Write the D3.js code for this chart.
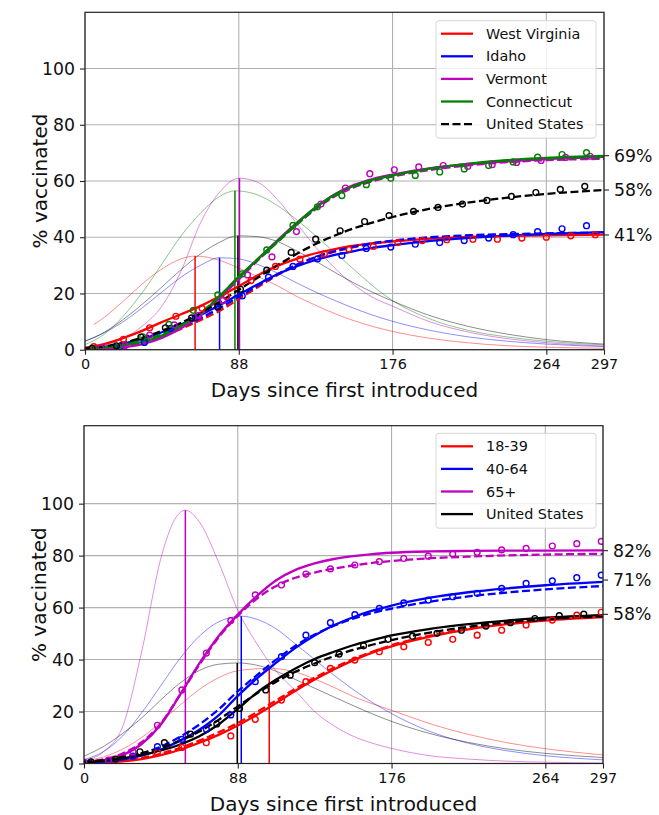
<!DOCTYPE html>
<html>
<head>
<meta charset="utf-8">
<script src="https://cdnjs.cloudflare.com/ajax/libs/d3/7.8.5/d3.min.js"></script>
<style>
  body { margin: 0; background: #fff; font-family: "DejaVu Sans", sans-serif; }
  svg text { font-family: "DejaVu Sans", sans-serif; fill: #111; }
</style>
</head>
<body>
<script>
// ---- data ----
var xTicks = [0, 88, 176, 264, 297];
var yTicks = [0, 20, 40, 60, 80, 100];
var days = [0, 11, 22, 33, 44, 55, 66, 77, 88, 99, 110, 121, 132, 143, 154, 165, 176, 198, 220, 242, 264, 297];

// top panel: states
var stateNames = ["West Virginia", "Idaho", "Vermont", "Connecticut", "United States"];
var wvFit  = [0.7, 2.0, 4.2, 6.8, 9.8, 12.6, 15.5, 19.0, 22.6, 26.5, 29.8, 32.3, 34.3, 35.8, 37.0, 37.9, 38.5, 39.5, 40.1, 40.5, 40.7, 40.9];
var wvDash = [0.2, 0.6, 1.4, 2.8, 4.8, 7.4, 10.5, 13.8, 18.0, 22.3, 26.5, 30.0, 32.8, 34.9, 36.5, 37.7, 38.6, 39.8, 40.5, 40.9, 41.1, 41.2];
var idFit  = [0.4, 1.0, 2.2, 3.9, 6.2, 9.0, 12.3, 15.8, 19.6, 23.3, 26.8, 29.6, 31.9, 33.7, 35.1, 36.3, 37.2, 38.7, 39.8, 40.6, 41.2, 41.8];
var idDash = [0.3, 0.8, 1.7, 3.2, 5.3, 8.0, 11.2, 14.8, 18.8, 22.9, 26.8, 30.2, 33.0, 35.1, 36.7, 37.9, 38.8, 40.0, 40.7, 41.1, 41.4, 41.6];
var vtFit  = [0.1, 0.3, 0.9, 2.0, 4.2, 7.6, 12.3, 18.5, 25.5, 32.3, 38.8, 45.0, 50.6, 55.3, 58.6, 60.8, 62.3, 64.6, 66.0, 67.0, 67.8, 68.6];
var vtDash = [0.2, 0.5, 1.2, 2.5, 4.7, 8.0, 12.5, 18.3, 25.0, 31.8, 38.3, 44.5, 50.0, 54.6, 57.8, 60.0, 61.6, 64.0, 65.6, 66.7, 67.4, 67.9];
var ctFit  = [0.3, 0.8, 1.7, 2.8, 5.0, 8.5, 12.8, 19.0, 26.0, 32.3, 38.5, 44.8, 50.6, 55.2, 58.3, 60.5, 62.0, 64.5, 66.2, 67.4, 68.2, 68.9];
var ctDash = [0.4, 1.0, 2.0, 3.3, 5.5, 8.8, 13.0, 19.0, 25.8, 32.0, 38.2, 44.4, 50.2, 54.9, 58.1, 60.3, 61.9, 64.4, 66.1, 67.3, 68.0, 68.4];
var usDash = [0.5, 1.2, 2.5, 4.3, 6.7, 9.6, 13.0, 17.0, 21.3, 25.7, 30.0, 34.0, 37.6, 40.6, 43.2, 45.3, 47.2, 50.2, 52.4, 54.1, 55.4, 56.8];

var wvBell = [[5, 8.9], [11, 11.5], [22, 17.3], [33, 23.5], [44, 28.7], [55, 32.3], [63, 33.3], [77, 31.8], [88, 29.0], [99, 26.0], [110, 22.8], [121, 19.0], [132, 15.8], [143, 12.8], [154, 10.3], [165, 8.2], [176, 6.5], [198, 4.0], [220, 2.4], [242, 1.4], [264, 0.9], [297, 0.5]];
var idBell = [[0, 3.0], [11, 6.0], [22, 10.0], [33, 15.0], [44, 20.5], [55, 25.8], [66, 30.0], [77, 32.7], [88, 32.3], [99, 30.3], [110, 27.3], [121, 23.8], [132, 20.5], [143, 17.5], [154, 14.7], [165, 12.2], [176, 10.1], [198, 6.8], [220, 4.5], [242, 3.0], [264, 2.0], [297, 1.1]];
var vtBell = [[0, 0.4], [11, 1.5], [22, 4.0], [33, 8.5], [44, 15.5], [55, 28], [66, 45], [77, 56], [88, 61], [99, 59.5], [110, 53.5], [121, 45], [132, 36.5], [143, 29], [154, 23], [165, 18.5], [176, 15.5], [198, 9.8], [220, 6.2], [242, 3.9], [264, 2.5], [297, 1.3]];
var ctBell = [[0, 1.8], [11, 5.5], [22, 12], [33, 20.5], [44, 30.5], [55, 40.5], [66, 48.5], [77, 54.5], [86, 56.5], [99, 55], [110, 51.3], [121, 46.3], [132, 40.5], [143, 34.5], [154, 28.5], [165, 22.5], [176, 17.5], [198, 10.8], [220, 6.8], [242, 4.5], [264, 3.0], [297, 1.7]];
var usBell = [[0, 3.0], [11, 6.2], [22, 10.8], [33, 16.3], [44, 22.3], [55, 28.5], [66, 34], [77, 38.2], [87, 40.5], [99, 40.2], [110, 38.5], [121, 35.2], [132, 31.5], [143, 27.5], [154, 23.7], [165, 20.3], [176, 17.3], [198, 12.0], [220, 8.2], [242, 5.5], [264, 3.6], [297, 2.0]];

var statePeakDays = [63, 77, 88.4, 85.8, 87.5];
var statePeakVals = [33.3, 32.7, 61, 56.5, 40.5];

var wvObsDays = [5, 22, 37, 52, 67, 81, 95, 109, 123, 137, 151, 165, 179, 193, 207, 222, 236, 250, 264, 278, 292];
var wvObs     = [1.1, 3.7, 7.8, 11.9, 14.7, 18.9, 24.6, 29.6, 32.2, 34.1, 35.8, 36.7, 38.1, 38.8, 39.1, 39.3, 39.3, 39.7, 40.0, 40.5, 40.9];
var idObsDays = [20, 34, 49, 63, 76, 90, 105, 119, 133, 147, 161, 175, 189, 203, 217, 231, 245, 259, 273, 287];
var idObs     = [1.1, 2.6, 7.6, 11.3, 15.1, 19.1, 25.8, 29.6, 32.3, 33.5, 36.0, 36.5, 37.5, 38.1, 38.8, 39.7, 40.9, 42.0, 43.0, 44.1];
var vtObsDays = [9, 23, 37, 51, 65, 79, 93, 107, 121, 135, 149, 163, 177, 191, 205, 219, 233, 247, 261, 275, 289];
var vtObs     = [0.6, 1.5, 5.2, 8.8, 12.2, 17.5, 26.6, 33.0, 42.0, 51.8, 57.5, 62.6, 64.0, 65.0, 65.5, 65.2, 65.8, 66.6, 67.3, 68.4, 68.8];
var ctObsDays = [5, 19, 33, 48, 62, 76, 90, 104, 119, 133, 147, 161, 175, 189, 203, 217, 231, 245, 259, 273, 287];
var ctObs     = [0.3, 1.0, 4.6, 9.0, 14.0, 19.5, 27.0, 35.5, 44.2, 50.8, 54.8, 58.7, 61.0, 62.0, 63.2, 64.3, 65.5, 66.8, 68.5, 69.4, 70.1];
var usObsDays = [4, 18, 32, 46, 61, 76, 89, 104, 118, 132, 146, 160, 174, 188, 202, 216, 230, 244, 258, 272, 286];
var usObs     = [0.5, 1.4, 4.5, 7.8, 11.3, 15.3, 21.5, 28.3, 34.6, 39.3, 42.3, 45.6, 47.7, 49.2, 50.6, 51.8, 53.1, 54.5, 55.9, 57.0, 58.1];

var stateEnds = [69, 56.8, 40.8];
var stateEndLabels = ["69%", "58%", "41%"];

// bottom panel: age groups
var ageNames = ["18-39", "40-64", "65+", "United States"];
var y18Fit  = [0.2, 0.4, 0.8, 1.7, 3.2, 5.3, 8.0, 11.0, 14.6, 18.8, 23.3, 28.0, 32.3, 36.2, 39.7, 42.7, 45.1, 48.8, 51.6, 53.6, 55.0, 56.3];
var y18Dash = [0.3, 0.6, 1.2, 2.2, 3.8, 6.0, 8.8, 12.0, 15.6, 19.8, 24.3, 28.8, 33.0, 36.8, 40.2, 43.0, 45.5, 49.2, 51.9, 53.9, 55.3, 56.6];
var m40Fit  = [0.3, 0.7, 1.5, 3.0, 5.4, 8.8, 13.0, 18.5, 26.0, 32.8, 38.8, 44.5, 49.3, 53.2, 56.3, 58.8, 60.8, 63.8, 65.9, 67.4, 68.6, 69.9];
var m40Dash = [0.4, 1.0, 2.0, 3.8, 6.5, 10.3, 15.0, 20.8, 27.8, 34.0, 40.0, 45.3, 49.6, 53.0, 55.7, 57.9, 59.6, 62.3, 64.3, 65.8, 67.0, 68.3];
var o65Fit  = [0.4, 1.3, 3.2, 7.5, 15.0, 26.5, 38.5, 49.0, 57.3, 64.5, 70.5, 74.5, 77.0, 78.7, 79.8, 80.6, 81.1, 81.6, 81.8, 81.9, 81.9, 82.0];
var o65Dash = [0.5, 1.6, 3.8, 8.2, 15.5, 26.5, 38.0, 48.5, 56.8, 63.5, 68.3, 71.5, 73.5, 75.0, 76.2, 77.2, 77.9, 79.0, 79.6, 80.1, 80.4, 80.7];
var usFitB  = [0.5, 1.0, 2.0, 3.3, 5.0, 7.3, 10.5, 15.0, 21.0, 27.3, 32.3, 36.6, 40.2, 43.0, 45.5, 47.5, 49.3, 51.8, 53.6, 55.0, 56.1, 57.1];
var usDashB = [0.6, 1.3, 2.5, 4.0, 6.0, 8.8, 12.3, 16.8, 22.0, 27.0, 31.5, 35.3, 38.5, 41.3, 43.7, 45.7, 47.5, 50.4, 52.6, 54.3, 55.5, 56.6];

var y18Bell = [[0, 1.0], [11, 2.5], [22, 5.5], [33, 10], [44, 16], [55, 22.5], [66, 28.5], [77, 33], [88, 35.7], [106, 36.6], [121, 35.2], [132, 32.5], [143, 29.3], [154, 25.8], [165, 23.0], [176, 20.5], [198, 15.3], [220, 11.2], [242, 8.0], [264, 5.7], [297, 3.3]];
var m40Bell = [[0, 1.5], [11, 4.5], [22, 10.5], [33, 19.5], [44, 30], [55, 40.5], [66, 49], [77, 54.5], [90, 56.7], [99, 55.5], [110, 51.8], [121, 46], [132, 40], [143, 34], [154, 28.5], [165, 23.5], [176, 19.2], [198, 12.3], [220, 7.8], [242, 4.9], [264, 3.0], [297, 1.4]];
var o65Bell = [[0, 1.0], [11, 4.5], [22, 14], [33, 43], [44, 79], [52, 94], [58, 97.5], [66, 93], [77, 77.5], [88, 59], [99, 46], [110, 35.5], [121, 28], [132, 20], [143, 14.5], [154, 10.5], [165, 7.8], [176, 5.8], [198, 3.0], [220, 1.7], [242, 0.9], [264, 0.5], [297, 0.2]];
var usBellB = [[0, 2.8], [11, 6.5], [22, 11.5], [33, 17.5], [44, 24.5], [55, 31], [66, 35.8], [77, 38.2], [88, 38.7], [99, 37.8], [110, 35.5], [121, 32.3], [132, 29], [143, 25.6], [154, 22.3], [165, 19.1], [176, 16.2], [198, 11.5], [220, 8.1], [242, 5.6], [264, 3.9], [297, 2.3]];

var agePeakDays = [106, 90, 58, 87.7];
var agePeakVals = [36.6, 56.7, 97.5, 38.7];

var obsDaysB = [0, 14, 28, 42, 56, 70, 84, 98, 113, 127, 141, 155, 169, 183, 197, 211, 225, 239, 253, 268, 282, 296];
var y18Obs = [0.3, 0.9, 2.3, 4.3, 6.2, 8.0, 10.6, 17.0, 24.4, 31.5, 36.6, 39.8, 43.0, 44.9, 46.6, 47.8, 49.4, 51.3, 53.3, 55.2, 57.1, 58.2];
var m40Obs = [0.3, 1.0, 2.8, 6.5, 9.3, 13.2, 18.7, 31.5, 41.1, 49.4, 54.2, 57.3, 59.7, 61.8, 62.9, 64.2, 65.5, 67.4, 69.3, 70.3, 71.5, 72.5];
var o65Obs = [0.5, 1.3, 4.5, 14.7, 28.3, 42.5, 55.0, 64.9, 68.7, 72.9, 74.9, 76.4, 77.7, 78.9, 79.8, 80.6, 81.3, 82.2, 82.8, 83.7, 84.6, 85.5];
var usObsDaysB = [4, 18, 32, 46, 61, 76, 89, 104, 118, 132, 146, 160, 174, 188, 202, 216, 230, 244, 258, 272, 286];
var usObsB = [0.6, 1.7, 4.5, 8.0, 11.3, 15.2, 21.2, 28.3, 34.0, 38.8, 42.1, 45.3, 47.8, 49.0, 50.1, 51.3, 52.9, 54.2, 55.8, 56.9, 57.5];

var ageEnds = [81.9, 70.6, 57.4];
var ageEndLabels = ["82%", "71%", "58%"];

// ---- drawing ----
var svg = d3.select("body").append("svg")
    .attr("width", 659)
    .attr("height", 815);

function zipDays(ds, vs) {
  return vs.map(function(v, i) { return [ds[i], v]; });
}

function drawPanel(p) {
  var x = d3.scaleLinear().domain([0, 297]).range([p.left, p.right]);
  var y = d3.scaleLinear().domain([0, p.ymax]).range([p.bottom, p.top]);

  svg.append("clipPath").attr("id", "clip" + p.id)
    .append("rect")
    .attr("x", p.left).attr("y", p.top)
    .attr("width", p.right - p.left).attr("height", p.bottom - p.top);

  var g = svg.append("g");

  // grid
  g.selectAll(".gx").data(xTicks).enter().append("line")
    .attr("x1", d => x(d)).attr("x2", d => x(d))
    .attr("y1", p.top).attr("y2", p.bottom)
    .attr("stroke", "#b0b0b0").attr("stroke-width", 1.1);
  g.selectAll(".gy").data(yTicks).enter().append("line")
    .attr("x1", p.left).attr("x2", p.right)
    .attr("y1", d => y(d)).attr("y2", d => y(d))
    .attr("stroke", "#b0b0b0").attr("stroke-width", 1.1);

  var plot = g.append("g").attr("clip-path", "url(#clip" + p.id + ")");
  var line = d3.line().x(d => x(d[0])).y(d => y(d[1])).curve(d3.curveMonotoneX);

  // thin bell curves
  p.series.forEach(function(s) {
    plot.append("path").datum(s.bell)
      .attr("d", line).attr("fill", "none")
      .attr("stroke", s.color).attr("stroke-width", 0.75).attr("stroke-opacity", 0.6);
  });
  // peak markers
  p.series.forEach(function(s) {
    plot.append("line")
      .attr("x1", x(s.peak[0])).attr("x2", x(s.peak[0]))
      .attr("y1", y(0)).attr("y2", y(s.peak[1]))
      .attr("stroke", s.color).attr("stroke-width", 1.5);
  });
  // fitted curves
  p.series.forEach(function(s) {
    if (s.fit) {
      plot.append("path").datum(zipDays(days, s.fit))
        .attr("d", line).attr("fill", "none")
        .attr("stroke", s.color).attr("stroke-width", 2.3);
    }
    plot.append("path").datum(zipDays(days, s.dash))
      .attr("d", line).attr("fill", "none")
      .attr("stroke", s.color).attr("stroke-width", 2.3)
      .attr("stroke-dasharray", "8,3.5");
  });
  // observations
  p.series.forEach(function(s) {
    plot.selectAll(null).data(zipDays(s.obsDays, s.obs)).enter().append("circle")
      .attr("cx", d => x(d[0])).attr("cy", d => y(d[1]))
      .attr("r", 2.9).attr("fill", "none")
      .attr("stroke", s.color).attr("stroke-width", 1.4);
  });

  // frame
  g.append("rect")
    .attr("x", p.left).attr("y", p.top)
    .attr("width", p.right - p.left).attr("height", p.bottom - p.top)
    .attr("fill", "none").attr("stroke", "#222").attr("stroke-width", 1.2);

  // axes
  var xAxis = g.append("g").attr("transform", "translate(0," + p.bottom + ")")
    .call(d3.axisBottom(x).tickValues(xTicks).tickSize(5).tickSizeOuter(0).tickPadding(4));
  var yAxis = g.append("g").attr("transform", "translate(" + p.left + ",0)")
    .call(d3.axisLeft(y).tickValues(yTicks).tickSize(5).tickSizeOuter(0).tickPadding(5));
  [xAxis, yAxis].forEach(function(a) {
    a.select(".domain").remove();
    a.selectAll("line").attr("stroke", "#222").attr("stroke-width", 1.1);
    a.selectAll("text").style("font-family", "DejaVu Sans").attr("fill", "#111");
  });
  xAxis.selectAll("text").style("font-size", "14.4px");
  yAxis.selectAll("text").style("font-size", "17.3px");

  // right-hand end values
  var r = g.append("g");
  p.ends.forEach(function(v, i) {
    r.append("line")
      .attr("x1", p.right).attr("x2", p.right + 5)
      .attr("y1", y(v)).attr("y2", y(v))
      .attr("stroke", "#222").attr("stroke-width", 1.1);
    r.append("text")
      .attr("x", p.right + 10).attr("y", y(v)).attr("dy", "0.35em")
      .style("font-size", "17.3px").text(p.endLabels[i]);
  });

  // axis titles
  g.append("text")
    .attr("x", (p.left + p.right) / 2).attr("y", p.bottom + 47)
    .attr("text-anchor", "middle").style("font-size", "20px")
    .text("Days since first introduced");
  g.append("text")
    .attr("transform", "translate(" + (p.left - 38) + "," + ((p.top + p.bottom) / 2) + ") rotate(-90)")
    .attr("text-anchor", "middle").style("font-size", "20px")
    .text("% vaccinated");

  // legend
  var lg = g.append("g");
  var lh = p.legend.length;
  lg.append("rect")
    .attr("x", 436).attr("y", p.legendTop)
    .attr("width", 160).attr("height", 22.6 * lh + 4.5)
    .attr("rx", 3).attr("fill", "#fff").attr("fill-opacity", 0.8)
    .attr("stroke", "#d6d6d6").attr("stroke-width", 1);
  p.legend.forEach(function(it, i) {
    var yy = p.legendTop + 13 + i * 22.6;
    lg.append("line")
      .attr("x1", 441).attr("x2", 473).attr("y1", yy).attr("y2", yy)
      .attr("stroke", it.color).attr("stroke-width", 2.3)
      .attr("stroke-dasharray", it.dashed ? "8,3.5" : null);
    lg.append("text")
      .attr("x", 486).attr("y", yy).attr("dy", "0.35em")
      .style("font-size", "14.4px").text(it.name);
  });
}

var stateColors = ["#ff0000", "#0000ff", "#bf00bf", "#008000", "#000000"];
var stateFits = [wvFit, idFit, vtFit, ctFit, null];
var stateDashes = [wvDash, idDash, vtDash, ctDash, usDash];
var stateBells = [wvBell, idBell, vtBell, ctBell, usBell];
var stateObsDays = [wvObsDays, idObsDays, vtObsDays, ctObsDays, usObsDays];
var stateObs = [wvObs, idObs, vtObs, ctObs, usObs];

drawPanel({
  id: "top", left: 85, right: 604, top: 12.3, bottom: 349.7, ymax: 120,
  series: stateNames.map(function(n, i) {
    return { color: stateColors[i], fit: stateFits[i], dash: stateDashes[i], bell: stateBells[i],
      peak: [statePeakDays[i], statePeakVals[i]], obsDays: stateObsDays[i], obs: stateObs[i] };
  }),
  ends: stateEnds, endLabels: stateEndLabels,
  legendTop: 20.7,
  legend: stateNames.map(function(n, i) { return { name: n, color: stateColors[i], dashed: i == 4 }; })
});

var ageColors = ["#ff0000", "#0000ff", "#bf00bf", "#000000"];
var ageFits = [y18Fit, m40Fit, o65Fit, usFitB];
var ageDashes = [y18Dash, m40Dash, o65Dash, usDashB];
var ageBells = [y18Bell, m40Bell, o65Bell, usBellB];
var ageObsDays = [obsDaysB, obsDaysB, obsDaysB, usObsDaysB];
var ageObs = [y18Obs, m40Obs, o65Obs, usObsB];

drawPanel({
  id: "bottom", left: 84, right: 603, top: 425.7, bottom: 763.5, ymax: 130,
  series: ageNames.map(function(n, i) {
    return { color: ageColors[i], fit: ageFits[i], dash: ageDashes[i], bell: ageBells[i],
      peak: [agePeakDays[i], agePeakVals[i]], obsDays: ageObsDays[i], obs: ageObs[i] };
  }),
  ends: ageEnds, endLabels: ageEndLabels,
  legendTop: 433.3,
  legend: ageNames.map(function(n, i) { return { name: n, color: ageColors[i], dashed: false }; })
});
</script>
</body>
</html>
